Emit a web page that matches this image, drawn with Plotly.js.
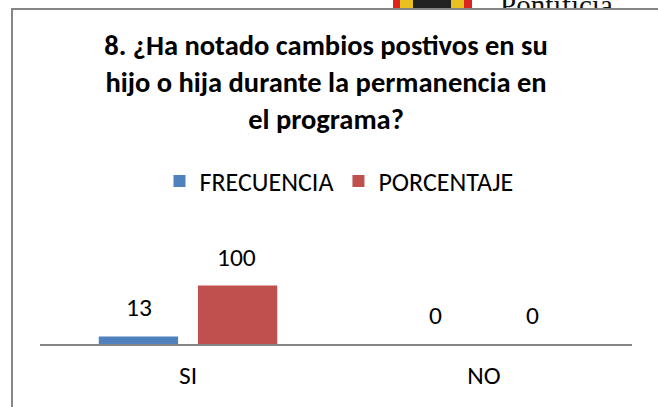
<!DOCTYPE html>
<html>
<head>
<meta charset="utf-8">
<script src="https://cdn.plot.ly/plotly-3.0.1.min.js"></script>
<style>
  html, body { margin: 0; padding: 0; background: #fff; }
  #wrap { position: relative; width: 658px; height: 407px; overflow: hidden; }
  #chart { position: absolute; left: 0; top: 0; width: 658px; height: 407px; }
  #logo { position: absolute; left: 393px; top: 0; width: 79px; height: 8px; overflow: hidden; z-index: 5; background: #d22; }
  #logo .y { position: absolute; top: 0; height: 8px; background: #e8c020; }
  #logo .k { position: absolute; top: 0; height: 8px; background: #222; }
  #logotext { position: absolute; left: 500px; top: 0; width: 140px; height: 8px; overflow: hidden; z-index: 5; }
  #logotext span { position: absolute; left: 0; top: -11px; font-family: "Liberation Serif", serif; font-size: 29px; color: #111; white-space: nowrap; }
</style>
</head>
<body>
<div id="wrap">
  <div id="chart"></div>
  <div id="logo"><div class="y" style="left:7px;width:64px"></div><div class="k" style="left:20px;width:38px"></div></div>
  <div id="logotext"><span>Pontificia</span></div>
</div>
<script>
// ---- data ----
var categories = ["SI", "NO"];
var frecuencia = [13, 0];
var porcentaje = [100, 0];
var seriesNames = ["FRECUENCIA", "PORCENTAJE"];
var titleLines = ["8. ¿Ha notado cambios postivos en su", "hijo o hija durante la permanencia en", "el programa?"];

// ---- geometry helpers (pixel -> paper) ----
var W = 658, H = 407;
var mL = 40, mR = 26, mB = 63, plotH = 117;
var mT = H - mB - plotH;
var plotW = W - mL - mR;
function px(x) { return (x - mL) / plotW; }
function py(y) { return (H - mB - y) / plotH; }

var FONT = "Carlito, Lato, sans-serif";
var colors = ["#4F81BD", "#C0504D"];

var traces = [
  { type: "bar", name: seriesNames[0], x: categories, y: frecuencia, marker: { color: colors[0] }, hoverinfo: "none" },
  { type: "bar", name: seriesNames[1], x: categories, y: porcentaje, marker: { color: colors[1] }, hoverinfo: "none" }
];

var annotations = [];
// data labels
var offs = [-0.165, 0.165];
[frecuencia, porcentaje].forEach(function (vals, s) {
  vals.forEach(function (v, i) {
    annotations.push({
      xref: "x", yref: "y", x: i + offs[s], y: v,
      text: String(v), showarrow: false, yanchor: "bottom", yshift: 11,
      font: { family: FONT, size: 25.5, color: "#000" }
    });
  });
});

var layout = {
  width: W, height: H,
  margin: { l: mL, r: mR, t: mT, b: mB, pad: 0 },
  paper_bgcolor: "#fff", plot_bgcolor: "#fff",
  title: {
    text: "<b>" + titleLines.join("<br>") + "</b>",
    font: { family: FONT, size: 28.5, color: "#000" },
    xref: "container", yref: "container", x: 326 / W, y: 1 - 55 / H, xanchor: "center", yanchor: "top"
  },
  showlegend: true,
  legend: {
    orientation: "h", xref: "paper", yref: "paper", x: px(339), y: py(181),
    xanchor: "center", yanchor: "middle",
    font: { family: FONT, size: 26, color: "#000" },
    traceorder: "normal", itemclick: false, bgcolor: "rgba(0,0,0,0)"
  },
  barmode: "group", bargap: 0.33, bargroupgap: 0.2,
  xaxis: {
    type: "category", showline: true, linecolor: "#868686", linewidth: 2,
    showgrid: false, zeroline: false, ticks: "", ticklabelstandoff: 7,
    tickfont: { family: FONT, size: 25.5, color: "#000" }, range: [-0.5, 1.5], fixedrange: true
  },
  yaxis: { visible: false, range: [0, 200], fixedrange: true },
  shapes: [{
    type: "rect", xref: "paper", yref: "paper",
    x0: px(12), x1: px(720), y0: py(460), y1: py(9),
    line: { color: "#868686", width: 2 }, fillcolor: "rgba(0,0,0,0)", layer: "below"
  }],
  annotations: annotations
};

Plotly.newPlot("chart", traces, layout, { displayModeBar: false, staticPlot: true });
</script>
</body>
</html>
